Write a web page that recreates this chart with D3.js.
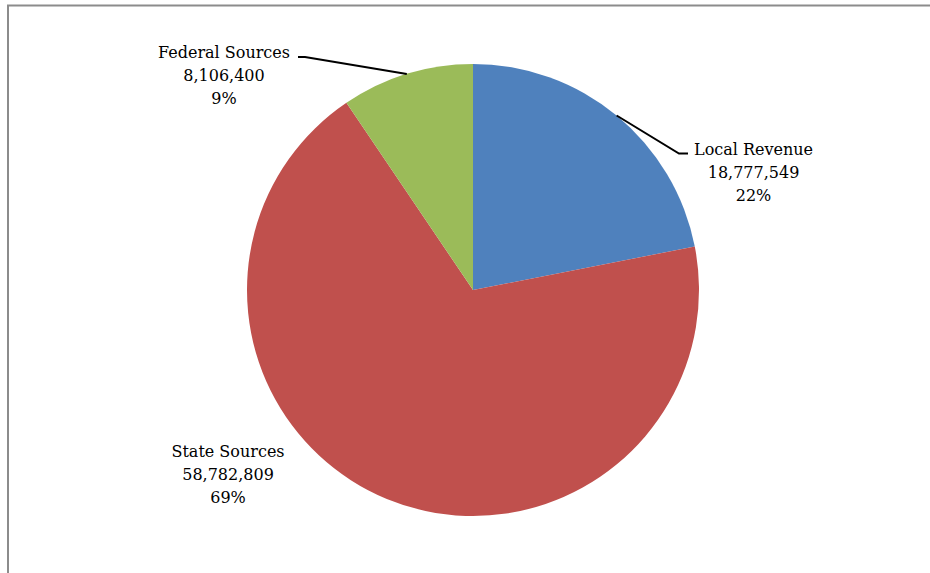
<!DOCTYPE html>
<html>
<head>
<meta charset="utf-8">
<script src="https://cdn.jsdelivr.net/npm/d3@7"></script>
<style>
  html, body { margin: 0; padding: 0; background: #fff; }
  svg { display: block; }
  .lbl { font-family: "DejaVu Serif", serif; font-size: 16px; fill: #000; }
</style>
</head>
<body>
<svg id="chart" width="930" height="573"></svg>
<script>
// Revenue by source
const categories = ["Local Revenue", "State Sources", "Federal Sources"];
const amounts = [18777549, 58782809, 8106400];
const percentLabels = ["22%", "69%", "9%"];
const sliceColors = ["#4F81BD", "#C0504D", "#9BBB59"];

const W = 930, H = 573;
const cx = 473, cy = 290, radius = 226;

const svg = d3.select("#chart");

// chart frame (runs past right and bottom edges)
svg.append("rect")
  .attr("x", 8).attr("y", 5.5)
  .attr("width", W + 20).attr("height", H + 20)
  .attr("fill", "none")
  .attr("stroke", "#8c8c8c")
  .attr("stroke-width", 2);

const data = categories.map((c, i) => ({ name: c, value: amounts[i], pct: percentLabels[i], color: sliceColors[i] }));

const pie = d3.pie().sort(null).value(d => d.value);
const arcs = pie(data);
const arc = d3.arc().innerRadius(0).outerRadius(radius);

const g = svg.append("g").attr("transform", `translate(${cx},${cy})`);

g.selectAll("path.slice")
  .data(arcs)
  .join("path")
  .attr("class", "slice")
  .attr("d", arc)
  .attr("fill", d => d.data.color);

// label placement (relative to the pie centre)
const labelLayout = {
  "Local Revenue":   { x: 221, y: -135, anchor: "start", leader: [[206, -136.5], [215, -136.5]] },
  "State Sources":   { x: -245, y: 167, anchor: "middle", leader: null },
  "Federal Sources": { x: -249, y: -232, anchor: "middle", leader: [[-168, -233], [-175, -233]] }
};

const fmt = d3.format(",");
const lineStep = 23;

arcs.forEach(a => {
  const L = labelLayout[a.data.name];
  if (L.leader) {
    const mid = (a.startAngle + a.endAngle) / 2;
    const start = [radius * Math.sin(mid), -radius * Math.cos(mid)];
    const pts = [start].concat(L.leader);
    g.append("path")
      .attr("d", d3.line()(pts))
      .attr("fill", "none")
      .attr("stroke", "#000")
      .attr("stroke-width", 2);
  }
  const lines = [a.data.name, fmt(a.data.value), a.data.pct];
  let x = L.x;
  const t = g.append("text").attr("class", "lbl").attr("text-anchor", "middle");
  if (L.anchor === "start") {
    // centre the block under the first line, which starts at x
    const tmp = g.append("text").attr("class", "lbl").text(lines[0]);
    const w = tmp.node().getComputedTextLength();
    tmp.remove();
    x = L.x + w / 2;
  }
  lines.forEach((s, i) => {
    t.append("tspan").attr("x", x).attr("y", L.y + i * lineStep).text(s);
  });
});
</script>
</body>
</html>
